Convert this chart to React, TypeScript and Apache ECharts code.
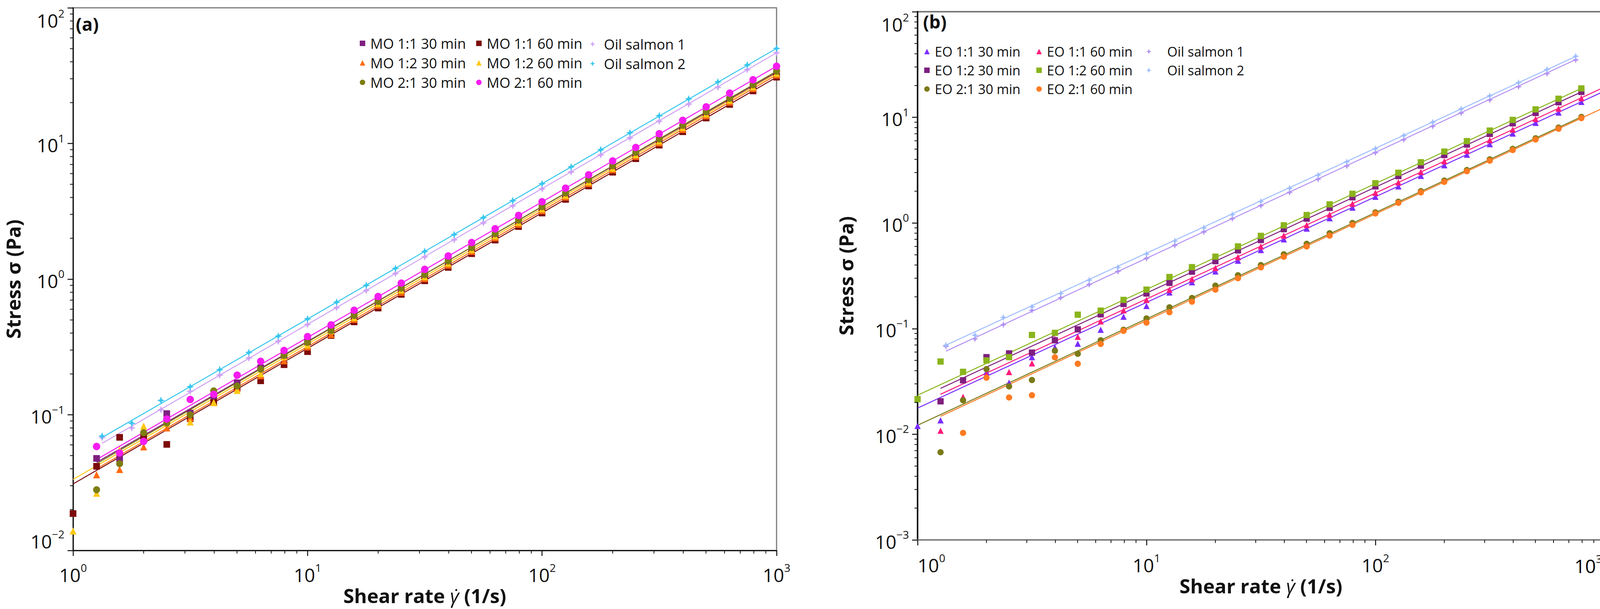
import React, { useEffect, useRef } from 'react';
import * as echarts from 'echarts';

const FONT = '"Open Sans", "Noto Sans", "DejaVu Sans", sans-serif';

// shear rates (1/s)
const xs10 = [1, 1.26, 1.58, 2, 2.51, 3.16, 3.98, 5.01, 6.31, 7.94, 10, 12.6, 15.8, 20, 25.1, 31.6, 39.8, 50.1, 63.1, 79.4, 100, 126, 158, 200, 251, 316, 398, 501, 631, 794, 1000];
const xs8 = [1.33, 1.78, 2.37, 3.16, 4.22, 5.62, 7.5, 10, 13.3, 17.8, 23.7, 31.6, 42.2, 56.2, 75, 100, 133, 178, 237, 316, 422, 562, 750, 1000];

// ---- panel (a) stresses (Pa) ----
const mo11_30 = [null, 0.0477, 0.0475, 0.065, 0.102, 0.103, 0.132, 0.172, 0.222, 0.272, 0.345, 0.428, 0.535, 0.676, 0.845, 1.06, 1.34, 1.68, 2.11, 2.66, 3.35, 4.22, 5.3, 6.7, 8.41, 10.6, 13.3, 16.8, 21.1, 26.6, 33.5];
const mo11_60 = [0.0187, 0.0417, 0.0682, 0.0702, 0.0605, 0.0935, 0.123, 0.157, 0.178, 0.234, 0.292, 0.384, 0.484, 0.612, 0.772, 0.972, 1.22, 1.54, 1.94, 2.44, 3.07, 3.87, 4.86, 6.14, 7.72, 9.72, 12.2, 15.4, 19.4, 24.4, 30.8];
const mo12_30 = [null, 0.0361, 0.0395, 0.058, 0.08, 0.0946, 0.123, 0.157, 0.194, 0.25, 0.316, 0.39, 0.505, 0.64, 0.8, 1.01, 1.27, 1.6, 2.02, 2.54, 3.2, 4.03, 5.06, 6.4, 8.03, 10.1, 12.7, 16.0, 20.2, 25.4, 32.0];
const mo12_60 = [0.0139, 0.0264, 0.055, 0.0825, 0.0866, 0.0885, 0.123, 0.151, 0.201, 0.268, 0.327, 0.415, 0.52, 0.66, 0.83, 1.04, 1.31, 1.65, 2.08, 2.62, 3.29, 4.14, 5.21, 6.57, 8.26, 10.4, 13.1, 16.5, 20.8, 26.1, 32.9];
const mo21_30 = [null, 0.028, 0.0436, 0.0738, 0.087, 0.1, 0.15, 0.163, 0.217, 0.274, 0.342, 0.417, 0.54, 0.685, 0.86, 1.08, 1.36, 1.71, 2.16, 2.72, 3.42, 4.31, 5.41, 6.85, 8.6, 10.8, 13.6, 17.1, 21.5, 27.1, 34.1];
const mo21_60 = [null, 0.0584, 0.0523, 0.0636, 0.093, 0.1296, 0.1415, 0.196, 0.248, 0.298, 0.377, 0.46, 0.59, 0.745, 0.935, 1.18, 1.48, 1.86, 2.35, 2.95, 3.72, 4.68, 5.88, 7.44, 9.34, 11.8, 14.8, 18.6, 23.5, 29.5, 37.1];
// oil salmon (same measurements shown in both panels)
const salmon1 = [0.0679, 0.08, 0.109, 0.149, 0.196, 0.262, 0.348, 0.463, 0.616, 0.824, 1.1, 1.46, 1.95, 2.6, 3.47, 4.63, 6.16, 8.24, 11.0, 14.6, 19.5, 26.0, 35.0, 46.6];
const salmon2 = [0.0697, 0.0866, 0.1276, 0.161, 0.215, 0.288, 0.38, 0.509, 0.676, 0.9, 1.2, 1.6, 2.13, 2.84, 3.79, 5.05, 6.72, 8.99, 12.0, 16.0, 21.3, 28.4, 37.9, 50.2];

// ---- panel (b) stresses (Pa) ----
const eo11_30 = [0.012, 0.01355, 0.022, 0.0388, 0.0308, 0.0537, 0.0665, 0.072, 0.0975, 0.1298, 0.164, 0.22, 0.275, 0.348, 0.44, 0.555, 0.7, 0.885, 1.11, 1.4, 1.77, 2.22, 2.79, 3.52, 4.43, 5.58, 7.03, 8.86, 11.1, 14.0, 17.7];
const eo11_60 = [null, 0.0108, 0.0226, 0.037, 0.0388, 0.0469, 0.0796, 0.0836, 0.117, 0.149, 0.187, 0.234, 0.294, 0.375, 0.475, 0.6, 0.76, 0.955, 1.2, 1.52, 1.93, 2.42, 3.04, 3.84, 4.83, 6.08, 7.65, 9.65, 12.1, 15.2, 19.3];
const eo12_30 = [null, 0.0205, 0.0324, 0.0537, 0.0583, 0.0593, 0.0776, 0.0984, 0.1365, 0.171, 0.215, 0.271, 0.346, 0.435, 0.55, 0.69, 0.875, 1.1, 1.39, 1.75, 2.22, 2.78, 3.49, 4.4, 5.53, 6.97, 8.78, 11.0, 13.9, 17.4, 21.9];
const eo12_60 = [0.0215, 0.0488, 0.039, 0.05, 0.0537, 0.0871, 0.0912, 0.1355, 0.148, 0.187, 0.234, 0.308, 0.382, 0.48, 0.6, 0.755, 0.95, 1.19, 1.5, 1.89, 2.38, 2.99, 3.76, 4.74, 5.96, 7.5, 9.46, 11.9, 15.0, 18.8, 23.5];
const eo21_30 = [null, 0.00676, 0.021, 0.0414, 0.0284, 0.0326, 0.0617, 0.0578, 0.0776, 0.0975, 0.1248, 0.159, 0.195, 0.255, 0.32, 0.4, 0.505, 0.635, 0.8, 1.0, 1.26, 1.59, 2.0, 2.52, 3.17, 4.0, 5.03, 6.34, 8.0, 10.1, 12.9];
const eo21_60 = [null, null, 0.0103, 0.0343, 0.0223, 0.0234, 0.0535, 0.0465, 0.0716, 0.0953, 0.114, 0.143, 0.18, 0.234, 0.3, 0.38, 0.48, 0.6, 0.76, 0.96, 1.23, 1.55, 1.95, 2.45, 3.09, 3.89, 4.9, 6.17, 7.8, 9.84, 12.4];

// power-law fit lines: [x start, stress start, x end, stress end]
const fitMO11_30 = [1.26, 0.0446, 1000, 33.5];
const fitMO11_60 = [1, 0.0309, 1000, 30.8];
const fitMO12_30 = [1.26, 0.040, 1000, 32.0];
const fitMO12_60 = [1, 0.0334, 1000, 32.9];
const fitMO21_30 = [1.26, 0.0436, 1000, 34.1];
const fitMO21_60 = [1.26, 0.0468, 1000, 37.1];
const fitSalmon1a = [1.33, 0.0616, 1000, 46.6];
const fitSalmon2a = [1.33, 0.068, 1000, 50.2];
const fitEO11_30 = [1, 0.0177, 1000, 17.7];
const fitEO11_60 = [1.26, 0.0239, 1000, 19.3];
const fitEO12_30 = [1.26, 0.0272, 794, 17.4];
const fitEO12_60 = [1, 0.0234, 794, 18.8];
const fitEO21_30 = [1, 0.01217, 794, 10.1];
const fitEO21_60 = [1.26, 0.0148, 1000, 12.4];
const fitSalmon1b = [1.33, 0.0612, 750, 35.2];
const fitSalmon2b = [1.33, 0.0698, 750, 37.7];

// minor tick mantissas and decades
const mantissas = [2, 3, 4, 5, 6, 7, 8, 9];
const decadesX = [1, 10, 100];
const decadesYa = [0.01, 0.1, 1, 10];
const decadesYb = [0.001, 0.01, 0.1, 1, 10];

const STAR = 'path://M0,-10L2.6,-2.6L10,0L2.6,2.6L0,10L-2.6,2.6L-10,0L-2.6,-2.6Z';

const panelA = [
  { name: 'MO 1:1 30 min', xs: xs10, ys: mo11_30, fit: fitMO11_30, color: '#7e1f80', symbol: 'rect', size: 17 },
  { name: 'MO 1:1 60 min', xs: xs10, ys: mo11_60, fit: fitMO11_60, color: '#7d0b0b', symbol: 'rect', size: 17 },
  { name: 'MO 1:2 30 min', xs: xs10, ys: mo12_30, fit: fitMO12_30, color: '#ff6a10', symbol: 'triangle', size: 18 },
  { name: 'MO 1:2 60 min', xs: xs10, ys: mo12_60, fit: fitMO12_60, color: '#ffc814', symbol: 'triangle', size: 18 },
  { name: 'MO 2:1 30 min', xs: xs10, ys: mo21_30, fit: fitMO21_30, color: '#7d7d12', symbol: 'circle', size: 18 },
  { name: 'MO 2:1 60 min', xs: xs10, ys: mo21_60, fit: fitMO21_60, color: '#f51cf0', symbol: 'circle', size: 19 },
  { name: 'Oil salmon 1', xs: xs8, ys: salmon1, fit: fitSalmon1a, color: '#cfa2f5', symbol: STAR, size: 20 },
  { name: 'Oil salmon 2', xs: xs8, ys: salmon2, fit: fitSalmon2a, color: '#36c6ee', symbol: STAR, size: 20 },
];

const panelB = [
  { name: 'EO 1:1 30 min', xs: xs10, ys: eo11_30, fit: fitEO11_30, color: '#7a2cff', symbol: 'triangle', size: 16 },
  { name: 'EO 1:1 60 min', xs: xs10, ys: eo11_60, fit: fitEO11_60, color: '#ff1c7a', symbol: 'triangle', size: 16 },
  { name: 'EO 1:2 30 min', xs: xs10, ys: eo12_30, fit: fitEO12_30, color: '#7f1f7f', symbol: 'rect', size: 16 },
  { name: 'EO 1:2 60 min', xs: xs10, ys: eo12_60, fit: fitEO12_60, color: '#8ab41c', symbol: 'rect', size: 16 },
  { name: 'EO 2:1 30 min', xs: xs10, ys: eo21_30, fit: fitEO21_30, color: '#7a7a18', symbol: 'circle', size: 16 },
  { name: 'EO 2:1 60 min', xs: xs10, ys: eo21_60, fit: fitEO21_60, color: '#ff7b22', symbol: 'circle', size: 16 },
  { name: 'Oil salmon 1 (b)', xs: xs8, ys: salmon1, fit: fitSalmon1b, color: '#b391f2', symbol: STAR, size: 18 },
  { name: 'Oil salmon 2 (b)', xs: xs8, ys: salmon2, fit: fitSalmon2b, color: '#9ebdfd', symbol: STAR, size: 18 },
];

const expText = (v: number) => {
  const e = Math.round(Math.log10(v));
  return e < 0 ? '\u2212' + String(-e) : String(e);
};
const supLabel = (v: number) => '{b|10}{s|' + expText(v) + '}';

const labelRich = {
  b: { fontSize: 48, fontFamily: FONT, color: '#111', lineHeight: 56, verticalAlign: 'bottom' },
  s: { fontSize: 28, fontFamily: FONT, color: '#111', lineHeight: 30, verticalAlign: 'top' },
};

function buildSeries(panel: any[], idx: number) {
  const out: any[] = [];
  panel.forEach((p) => {
    out.push({
      type: 'line',
      xAxisIndex: idx,
      yAxisIndex: idx,
      data: [[p.fit[0], p.fit[1]], [p.fit[2], p.fit[3]]],
      symbol: 'none',
      silent: true,
      lineStyle: { color: p.color, width: 2.5 },
      z: 2,
    });
  });
  panel.forEach((p) => {
    const data: any[] = [];
    p.xs.forEach((x: number, k: number) => {
      if (p.ys[k] != null) data.push([x, p.ys[k]]);
    });
    out.push({
      type: 'scatter',
      name: p.name,
      xAxisIndex: idx,
      yAxisIndex: idx,
      data,
      symbol: p.symbol,
      symbolSize: p.size,
      itemStyle: { color: p.color, opacity: 1 },
      z: 3,
    });
  });
  return out;
}

function minorTicks(idx: number, decadesY: number[], yMin: number, xMin: number) {
  const mx: number[][] = [];
  decadesX.forEach((d) => mantissas.forEach((m) => mx.push([m * d, yMin])));
  const my: number[][] = [];
  decadesY.forEach((d) => mantissas.forEach((m) => my.push([xMin, m * d])));
  return [
    {
      type: 'custom',
      xAxisIndex: idx,
      yAxisIndex: idx,
      clip: false,
      silent: true,
      z: 5,
      encode: { x: 0, y: 1 },
      data: mx,
      renderItem: (params: any, api: any) => {
        const p = api.coord([api.value(0), api.value(1)]);
        return {
          type: 'line',
          shape: { x1: p[0], y1: p[1], x2: p[0], y2: p[1] + 8 },
          style: { stroke: '#111', lineWidth: 2 },
        };
      },
    },
    {
      type: 'custom',
      xAxisIndex: idx,
      yAxisIndex: idx,
      clip: false,
      silent: true,
      z: 5,
      encode: { x: 0, y: 1 },
      data: my,
      renderItem: (params: any, api: any) => {
        const p = api.coord([api.value(0), api.value(1)]);
        return {
          type: 'line',
          shape: { x1: p[0] - 8, y1: p[1], x2: p[0], y2: p[1] },
          style: { stroke: '#111', lineWidth: 2 },
        };
      },
    },
  ];
}

const legendText = (size: number, padLeft: number) => ({
  fontSize: size, lineHeight: size, color: '#111', fontFamily: FONT, padding: [0, 0, 0, padLeft],
});

const legendBase = {
  orient: 'vertical',
  itemWidth: 14,
  itemHeight: 14,
  padding: 0,
  selectedMode: false,
  formatter: (n: string) => n.replace(' (b)', ''),
};

export default function App() {
  const ref = useRef<HTMLDivElement>(null);
  useEffect(() => {
    if (!ref.current) return;
    const chart = echarts.init(ref.current, null, { renderer: 'svg' });
    const xName = '{t|Shear rate }{g|\u03B3\u0307}{t| (1/s)}';
    const nameRich = {
      t: { fontSize: 50, fontWeight: 'bold', fontFamily: FONT, color: '#111' },
      g: { fontSize: 50, fontStyle: 'italic', fontWeight: 'normal', fontFamily: FONT, color: '#111' },
    };
    const yNameStyle = { fontSize: 50, fontWeight: 'bold', fontFamily: FONT, color: '#111' };
    const option: any = {
      animation: false,
      backgroundColor: '#fff',
      textStyle: { fontFamily: FONT },
      grid: [
        { left: 187, top: 20, width: 1801, height: 1390, show: true, borderColor: '#7a7a7a', borderWidth: 3, backgroundColor: 'transparent' },
        { left: 2349, top: 30, width: 1758, height: 1353, show: true, borderColor: '#7a7a7a', borderWidth: 4, backgroundColor: 'transparent' },
      ],
      xAxis: [
        {
          type: 'log', logBase: 10, min: 1, max: 1000, gridIndex: 0,
          name: xName, nameLocation: 'middle', nameGap: 82,
          nameTextStyle: { rich: nameRich },
          axisLine: { lineStyle: { color: '#111', width: 3 } },
          axisTick: { length: 14, lineStyle: { color: '#111', width: 2.5 } },
          axisLabel: { formatter: supLabel, rich: labelRich, margin: 30 },
          splitLine: { show: false },
          minorTick: { show: false },
        },
        {
          type: 'log', logBase: 10, min: 1, max: 1000, gridIndex: 1,
          name: xName, nameLocation: 'middle', nameGap: 85,
          nameTextStyle: { rich: nameRich },
          axisLine: { lineStyle: { color: '#808080', width: 4 } },
          axisTick: { length: 14, lineStyle: { color: '#111', width: 2.5 } },
          axisLabel: { formatter: supLabel, rich: labelRich, margin: 32, alignMinLabel: 'left', showMaxLabel: false },
          splitLine: { show: false },
          minorTick: { show: false },
        },
      ],
      yAxis: [
        {
          type: 'log', logBase: 10, min: 0.01, max: 100, gridIndex: 0,
          name: 'Stress \u03C3 (Pa)', nameLocation: 'middle', nameGap: 128,
          nameTextStyle: yNameStyle,
          axisLine: { lineStyle: { color: '#111', width: 3 } },
          axisTick: { length: 14, lineStyle: { color: '#111', width: 2.5 } },
          axisLabel: { formatter: supLabel, rich: labelRich, margin: 22, verticalAlignMinLabel: 'bottom', verticalAlignMaxLabel: 'top' },
          splitLine: { show: false },
          minorTick: { show: false },
        },
        {
          type: 'log', logBase: 10, min: 0.001, max: 100, gridIndex: 1,
          name: 'Stress \u03C3 (Pa)', nameLocation: 'middle', nameGap: 158,
          nameTextStyle: yNameStyle,
          axisLine: { lineStyle: { color: '#111', width: 4 } },
          axisTick: { length: 14, lineStyle: { color: '#111', width: 2.5 } },
          axisLabel: { formatter: supLabel, rich: labelRich, margin: 22, verticalAlignMaxLabel: 'top' },
          splitLine: { show: false },
          minorTick: { show: false },
        },
      ],
      legend: [
        { ...legendBase, left: 921, top: 93, itemGap: 14, textStyle: legendText(36, 8), data: ['MO 1:1 30 min', 'MO 1:2 30 min', 'MO 2:1 30 min'] },
        { ...legendBase, left: 1219, top: 93, itemGap: 14, textStyle: legendText(36, 8), data: ['MO 1:1 60 min', 'MO 1:2 60 min', 'MO 2:1 60 min'] },
        { ...legendBase, left: 1510, top: 95, itemGap: 14, textStyle: legendText(36, 17), data: ['Oil salmon 1', 'Oil salmon 2'] },
        { ...legendBase, left: 2366, top: 115, itemGap: 14, textStyle: legendText(34, 8), data: ['EO 1:1 30 min', 'EO 1:2 30 min', 'EO 2:1 30 min'] },
        { ...legendBase, left: 2653, top: 115, itemGap: 14, textStyle: legendText(34, 8), data: ['EO 1:1 60 min', 'EO 1:2 60 min', 'EO 2:1 60 min'] },
        { ...legendBase, left: 2934, top: 115, itemGap: 14, textStyle: legendText(34, 35), data: ['Oil salmon 1 (b)', 'Oil salmon 2 (b)'] },
      ],
      graphic: [
        { type: 'text', left: 194, top: 38, style: { text: '(a)', font: 'bold 46px "Open Sans", sans-serif', fill: '#111' } },
        { type: 'text', left: 2363, top: 32, style: { text: '(b)', font: 'bold 46px "Open Sans", sans-serif', fill: '#111' } },
        // last tick label of panel (b) x axis, kept inside the page
        { type: 'text', x: 4066, y: 1445, style: { text: supLabel(1000), rich: labelRich, align: 'center', verticalAlign: 'middle' } },
      ],
      series: [
        ...buildSeries(panelA, 0),
        ...buildSeries(panelB, 1),
        ...minorTicks(0, decadesYa, 0.01, 1),
        ...minorTicks(1, decadesYb, 0.001, 1),
      ],
    };
    chart.setOption(option);
    return () => chart.dispose();
  }, []);
  return (
    <div
      ref={ref}
      style={{ position: 'fixed', left: 0, top: 0, width: '4144px', height: '1560px', background: '#fff' }}
    />
  );
}
